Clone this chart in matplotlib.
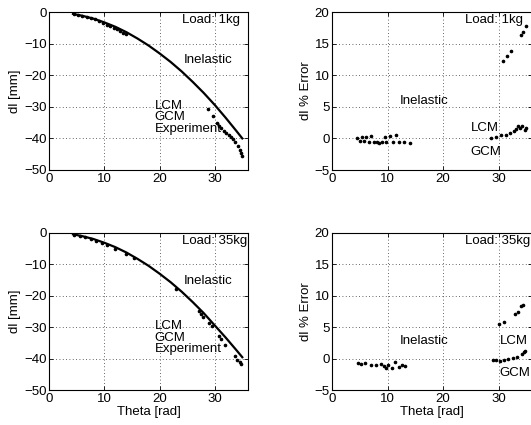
import matplotlib
matplotlib.use("Agg")
import matplotlib.pyplot as plt

plt.rcParams['font.family'] = ['Liberation Sans', 'DejaVu Sans']
plt.rcParams['font.size'] = 9.5

# ---------- data ----------
# Load 1kg, deflection model curve
theta_line1 = [4.3, 6, 8, 10, 12, 14, 16, 18, 20, 22, 24, 26, 28, 30, 32, 34, 35]
dl_line1 = [-0.6, -1.2, -2.1, -3.3, -4.7, -6.4, -8.4, -10.6, -13.1, -15.8,
            -18.8, -22.1, -25.6, -29.4, -33.5, -37.8, -40.0]
# Load 1kg, dots
theta_dots1 = [4.5, 5.2, 6.0, 6.8, 7.5, 8.3, 9.0, 9.8, 10.5, 11.0, 11.8, 12.3, 12.9, 13.4, 13.9,
               28.7, 29.7, 30.4, 30.7, 31.2, 31.6, 32.1, 32.5, 33.0, 33.3, 33.7, 34.2, 34.5, 34.8, 35.0]
dl_dots1 = [-0.7, -0.9, -1.3, -1.6, -1.9, -2.3, -2.8, -3.5, -4.0, -4.5, -5.2, -5.5, -6.0, -6.5, -7.1,
            -30.8, -32.8, -35.0, -36.1, -36.8, -37.6, -38.4, -38.9, -39.7, -40.3, -41.0, -42.4, -43.7, -44.7, -45.6]

# Load 35kg, deflection model curve
theta_line2 = [4.3, 6, 8, 10, 12, 14, 16, 18, 20, 22, 24, 26, 28, 30, 32, 34, 35]
dl_line2 = [-0.5, -1.1, -2.0, -3.2, -4.6, -6.3, -8.3, -10.5, -13.0, -15.7,
            -18.7, -22.0, -25.5, -29.4, -33.3, -37.4, -39.5]
# Load 35kg, dots
theta_dots2 = [4.5, 5.5, 6.5, 7.5, 8.5, 9.5, 10.5, 11.9, 13.9, 15.3, 23.0,
               27.1, 27.5, 27.9, 28.9, 29.5, 30.7, 31.2, 31.9, 33.6, 34.1, 34.5, 34.8]
dl_dots2 = [-0.6, -1.0, -1.5, -2.0, -2.6, -3.2, -3.9, -5.3, -6.6, -8.0, -17.9,
            -25.0, -25.7, -26.6, -28.5, -29.7, -32.7, -33.7, -35.5, -39.2, -40.3, -41.1, -41.6]

# Load 1kg, % error
theta_inel1 = [4.5, 5.0, 5.3, 5.8, 6.1, 6.7, 7.0, 7.6, 8.1, 8.5, 8.9, 9.5, 9.7, 10.5, 10.9, 11.5, 12.0, 13.0, 14.1]
err_inel1 = [0.0, -0.4, 0.2, -0.4, 0.3, -0.6, 0.4, -0.6, -0.5, -0.8, -0.5, 0.3, -0.5, 0.4, -0.5, 0.6, -0.5, -0.5, -0.7]
theta_lcm1 = [30.8, 31.6, 32.3, 34.1, 34.5, 35.0]
err_lcm1 = [12.3, 13.0, 13.9, 16.3, 16.9, 17.8]
theta_gcm1 = [28.7, 29.6, 30.5, 31.3, 32.0, 32.7, 33.2, 33.5, 33.9, 34.3, 34.7, 35.0]
err_gcm1 = [0.1, 0.3, 0.6, 0.5, 0.9, 1.2, 1.5, 2.0, 1.6, 1.9, 1.4, 1.7]

# Load 35kg, % error
theta_inel2 = [4.7, 5.2, 5.9, 7.0, 7.8, 8.7, 9.3, 9.6, 10.0, 10.8, 11.4, 12.0, 12.5, 13.1]
err_inel2 = [-0.7, -0.8, -0.7, -1.0, -1.0, -0.8, -1.2, -1.4, -1.0, -1.4, -0.5, -1.3, -1.0, -1.2]
theta_lcm2 = [30.1, 30.9, 32.9, 33.5, 34.1, 34.5]
err_lcm2 = [5.5, 5.8, 7.15, 7.4, 8.4, 8.6]
theta_gcm2 = [29.0, 29.6, 30.2, 30.9, 31.7, 32.6, 33.3, 34.2, 34.6, 34.8]
err_gcm2 = [-0.15, -0.2, -0.35, -0.2, 0.0, 0.2, 0.3, 0.7, 1.0, 1.3]

loads = ["Load: 1kg", "Load: 35kg"]
dl_ticks = [-50, -40, -30, -20, -10, 0]
err_ticks = [-5, 0, 5, 10, 15, 20]
x_ticks = [0, 10, 20, 30]

# ---------- figure ----------
W, H = 531, 425
fig = plt.figure(figsize=(W / 100, H / 100), dpi=100)

def px_axes(x0, ytop, w, h):
    return fig.add_axes([x0 / W, 1 - (ytop + h) / H, w / W, h / H])

def style(ax, yticks, ylim):
    ax.set_xlim(0, 36)
    ax.set_ylim(*ylim)
    ax.set_xticks(x_ticks)
    ax.set_yticks(yticks)
    ax.grid(True, linestyle=(0, (1, 3)), color='black', linewidth=0.6, alpha=0.8)
    ax.tick_params(direction='in', length=3, width=0.6, top=True, right=True, labelsize=9.5, pad=2)
    for s in ax.spines.values():
        s.set_linewidth(0.8)

axL1 = px_axes(49.3, 12, 198.5, 158)
axR1 = px_axes(332.3, 12, 199.5, 158)
axL2 = px_axes(49.3, 232.7, 198.5, 157.6)
axR2 = px_axes(332.3, 232.7, 199.5, 157.6)

dot = dict(linestyle='none', marker='.', markersize=3.2, color='black')

for ax, tl, dl, td, dd, load in [(axL1, theta_line1, dl_line1, theta_dots1, dl_dots1, loads[0]),
                                 (axL2, theta_line2, dl_line2, theta_dots2, dl_dots2, loads[1])]:
    ax.plot(tl, dl, color='black', linewidth=1.6)
    ax.plot(td, dd, **dot)
    style(ax, dl_ticks, (-50, 0))
    ax.set_ylabel("dl [mm]", labelpad=2)
    ax.text(24.1, -3.5, load, ha='left', va='baseline')
    ax.text(24.3, -16.2, "Inelastic", ha='left', va='baseline')
    ax.text(19.1, -30.7, "LCM", ha='left', va='baseline')
    ax.text(19.1, -34.3, "GCM", ha='left', va='baseline')
    ax.text(19.1, -37.9, "Experiment", ha='left', va='baseline')

for ax, ti, ei, tlc, elc, tgc, egc, load in [
        (axR1, theta_inel1, err_inel1, theta_lcm1, err_lcm1, theta_gcm1, err_gcm1, loads[0]),
        (axR2, theta_inel2, err_inel2, theta_lcm2, err_lcm2, theta_gcm2, err_gcm2, loads[1])]:
    ax.plot(ti, ei, **dot)
    ax.plot(tlc, elc, **dot)
    ax.plot(tgc, egc, **dot)
    style(ax, err_ticks, (-5, 20))
    ax.set_ylabel("dl % Error", labelpad=2)
    ax.text(24.0, 18.2, load, ha='left', va='baseline')

axR1.text(12.2, 5.4, "Inelastic", ha='left', va='baseline')
axR1.text(25.0, 1.2, "LCM", ha='left', va='baseline')
axR1.text(25.0, -2.7, "GCM", ha='left', va='baseline')
axR2.text(12.2, 2.3, "Inelastic", ha='left', va='baseline')
axR2.text(30.2, 2.3, "LCM", ha='left', va='baseline')
axR2.text(30.2, -2.7, "GCM", ha='left', va='baseline')

axL2.set_xlabel("Theta [rad]", labelpad=1)
axR2.set_xlabel("Theta [rad]", labelpad=1)

fig.savefig("out.png", dpi=100)
